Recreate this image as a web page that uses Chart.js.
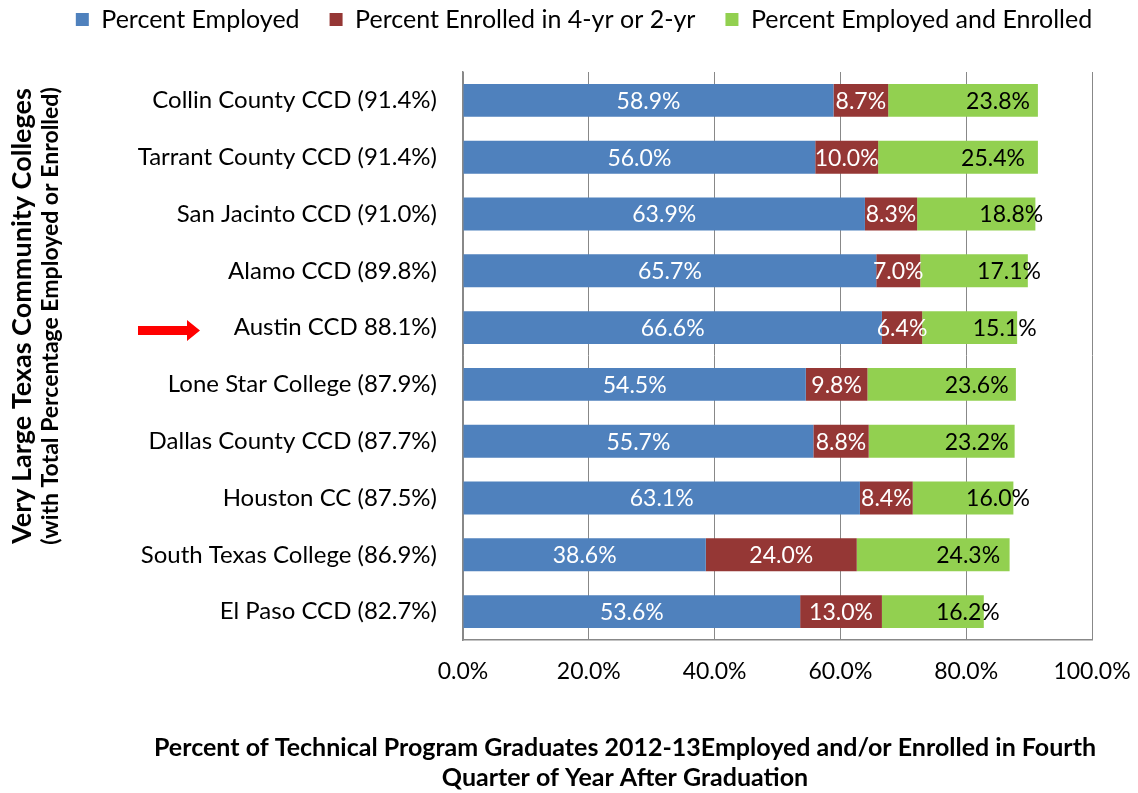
<!DOCTYPE html>
<html>
<head>
<meta charset="utf-8">
<script src="https://cdn.jsdelivr.net/npm/chart.js@4.4.0/dist/chart.umd.min.js"></script>
<style>
  html, body { margin: 0; padding: 0; background: #fff; }
  #wrap { width: 1138px; height: 793px; }
</style>
</head>
<body>
<div id="wrap"><canvas id="c" width="1138" height="793"></canvas></div>
<script>
const categories = [
  "Collin County CCD (91.4%)",
  "Tarrant County CCD (91.4%)",
  "San Jacinto CCD (91.0%)",
  "Alamo CCD (89.8%)",
  "Austin CCD 88.1%)",
  "Lone Star College (87.9%)",
  "Dallas County CCD (87.7%)",
  "Houston CC (87.5%)",
  "South Texas College (86.9%)",
  "El Paso CCD (82.7%)"
];
const seriesNames = ["Percent Employed", "Percent Enrolled in 4-yr or 2-yr", "Percent Employed and Enrolled"];
const employed = [58.9, 56.0, 63.9, 65.7, 66.6, 54.5, 55.7, 63.1, 38.6, 53.6];
const enrolled = [8.7, 10.0, 8.3, 7.0, 6.4, 9.8, 8.8, 8.4, 24.0, 13.0];
const employedEnrolled = [23.8, 25.4, 18.8, 17.1, 15.1, 23.6, 23.2, 16.0, 24.3, 16.2];
const xTicks = [0, 20, 40, 60, 80, 100];
const xTitle = ["Percent of Technical Program Graduates 2012-13Employed and/or Enrolled in Fourth", "Quarter of Year After Graduation"];
const yTitle = ["Very Large Texas Community Colleges", "(with Total Percentage Employed or Enrolled)"];
const highlightIndex = 4;

const colors = ["#4F81BD", "#953735", "#92D050"];
const labelColors = ["#FFFFFF", "#FFFFFF", "#000000"];
const FONT = "Lato";

const labelPlugin = {
  id: 'segLabels',
  afterDatasetsDraw(chart) {
    const ctx = chart.ctx;
    ctx.save();
    ctx.font = "23px " + FONT;
    ctx.textAlign = "center";
    ctx.textBaseline = "middle";
    chart.data.datasets.forEach((ds, di) => {
      const meta = chart.getDatasetMeta(di);
      meta.data.forEach((bar, i) => {
        const cx = (bar.x + bar.base) / 2 + (di === 2 ? 35 : 0);
        ctx.fillStyle = labelColors[di];
        ctx.fillText(ds.data[i].toFixed(1) + "%", cx, bar.y + 1);
      });
    });
    ctx.restore();
  }
};

const decoPlugin = {
  id: 'deco',
  afterDraw(chart) {
    const ctx = chart.ctx;
    const ca = chart.chartArea;
    ctx.save();
    ctx.fillStyle = "#000";
    ctx.textAlign = "center";
    ctx.textBaseline = "middle";
    // x title
    ctx.font = "bold 25px " + FONT;
    ctx.fillText(xTitle[0], 625, 748);
    ctx.fillText(xTitle[1], 625, 778);
    // y title
    ctx.save();
    ctx.font = "bold 27px " + FONT;
    ctx.translate(22, 316);
    ctx.rotate(-Math.PI / 2);
    ctx.fillText(yTitle[0], 0, 0);
    ctx.restore();
    ctx.save();
    ctx.font = "bold 23px " + FONT;
    ctx.translate(51, 316);
    ctx.rotate(-Math.PI / 2);
    ctx.fillText(yTitle[1], 0, 0);
    ctx.restore();
    // red arrow pointing at highlighted category
    const y = chart.scales.y.getPixelForValue(highlightIndex) + 3;
    const x0 = ca.left - 325, x1 = ca.left - 276, x2 = ca.left - 263;
    ctx.fillStyle = "#FF0000";
    ctx.beginPath();
    ctx.moveTo(x0, y - 4.5);
    ctx.lineTo(x1, y - 4.5);
    ctx.lineTo(x1, y - 10.5);
    ctx.lineTo(x2, y);
    ctx.lineTo(x1, y + 10.5);
    ctx.lineTo(x1, y + 4.5);
    ctx.lineTo(x0, y + 4.5);
    ctx.closePath();
    ctx.fill();
    ctx.restore();
  }
};

const gridColor = "#888888";

new Chart(document.getElementById('c'), {
  type: 'bar',
  data: {
    labels: categories,
    datasets: [
      { label: seriesNames[0], data: employed, backgroundColor: colors[0] },
      { label: seriesNames[1], data: enrolled, backgroundColor: colors[1] },
      { label: seriesNames[2], data: employedEnrolled, backgroundColor: colors[2] }
    ]
  },
  options: {
    indexAxis: 'y',
    responsive: false,
    animation: false,
    devicePixelRatio: 1,
    datasets: { bar: { barPercentage: 0.58, categoryPercentage: 1.0, borderWidth: 0 } },
    layout: { padding: { left: 30, right: 0, top: -23, bottom: 0 } },
    plugins: {
      legend: {
        position: 'top',
        labels: {
          boxWidth: 13, boxHeight: 13, padding: 30,
          color: "#000",
          font: { family: FONT, size: 25 }
        }
      },
      tooltip: { enabled: false }
    },
    scales: {
      x: {
        stacked: true,
        min: 0, max: 100,
        afterBuildTicks(s) { s.ticks = xTicks.map(v => ({ value: v })); },
        afterFit(s) { s.height = 153; },
        ticks: {
          color: "#000",
          font: { family: FONT, size: 23 },
          padding: 4,
          callback: v => v.toFixed(1) + "%"
        },
        grid: { color: gridColor, lineWidth: 1, drawTicks: true, tickLength: 14, tickColor: 'rgba(0,0,0,0)' },
        border: { color: gridColor, width: 1.5 }
      },
      xTop: {
        type: 'linear', position: 'top', display: true,
        grid: { display: false }, ticks: { display: false }, border: { display: false },
        afterFit(s) { s.height = 30; }
      },
      y: {
        stacked: true,
        afterFit(s) { s.width = 433; },
        ticks: { color: "#000", font: { family: FONT, size: 24 }, padding: 26 },
        grid: { display: false, drawTicks: false },
        border: { color: gridColor, width: 1.5 }
      },
      yRight: {
        type: 'linear', position: 'right', display: true,
        grid: { display: false }, ticks: { display: false }, border: { display: false },
        afterFit(s) { s.width = 46; }
      }
    }
  },
  plugins: [labelPlugin, decoPlugin]
});
</script>
</body>
</html>
